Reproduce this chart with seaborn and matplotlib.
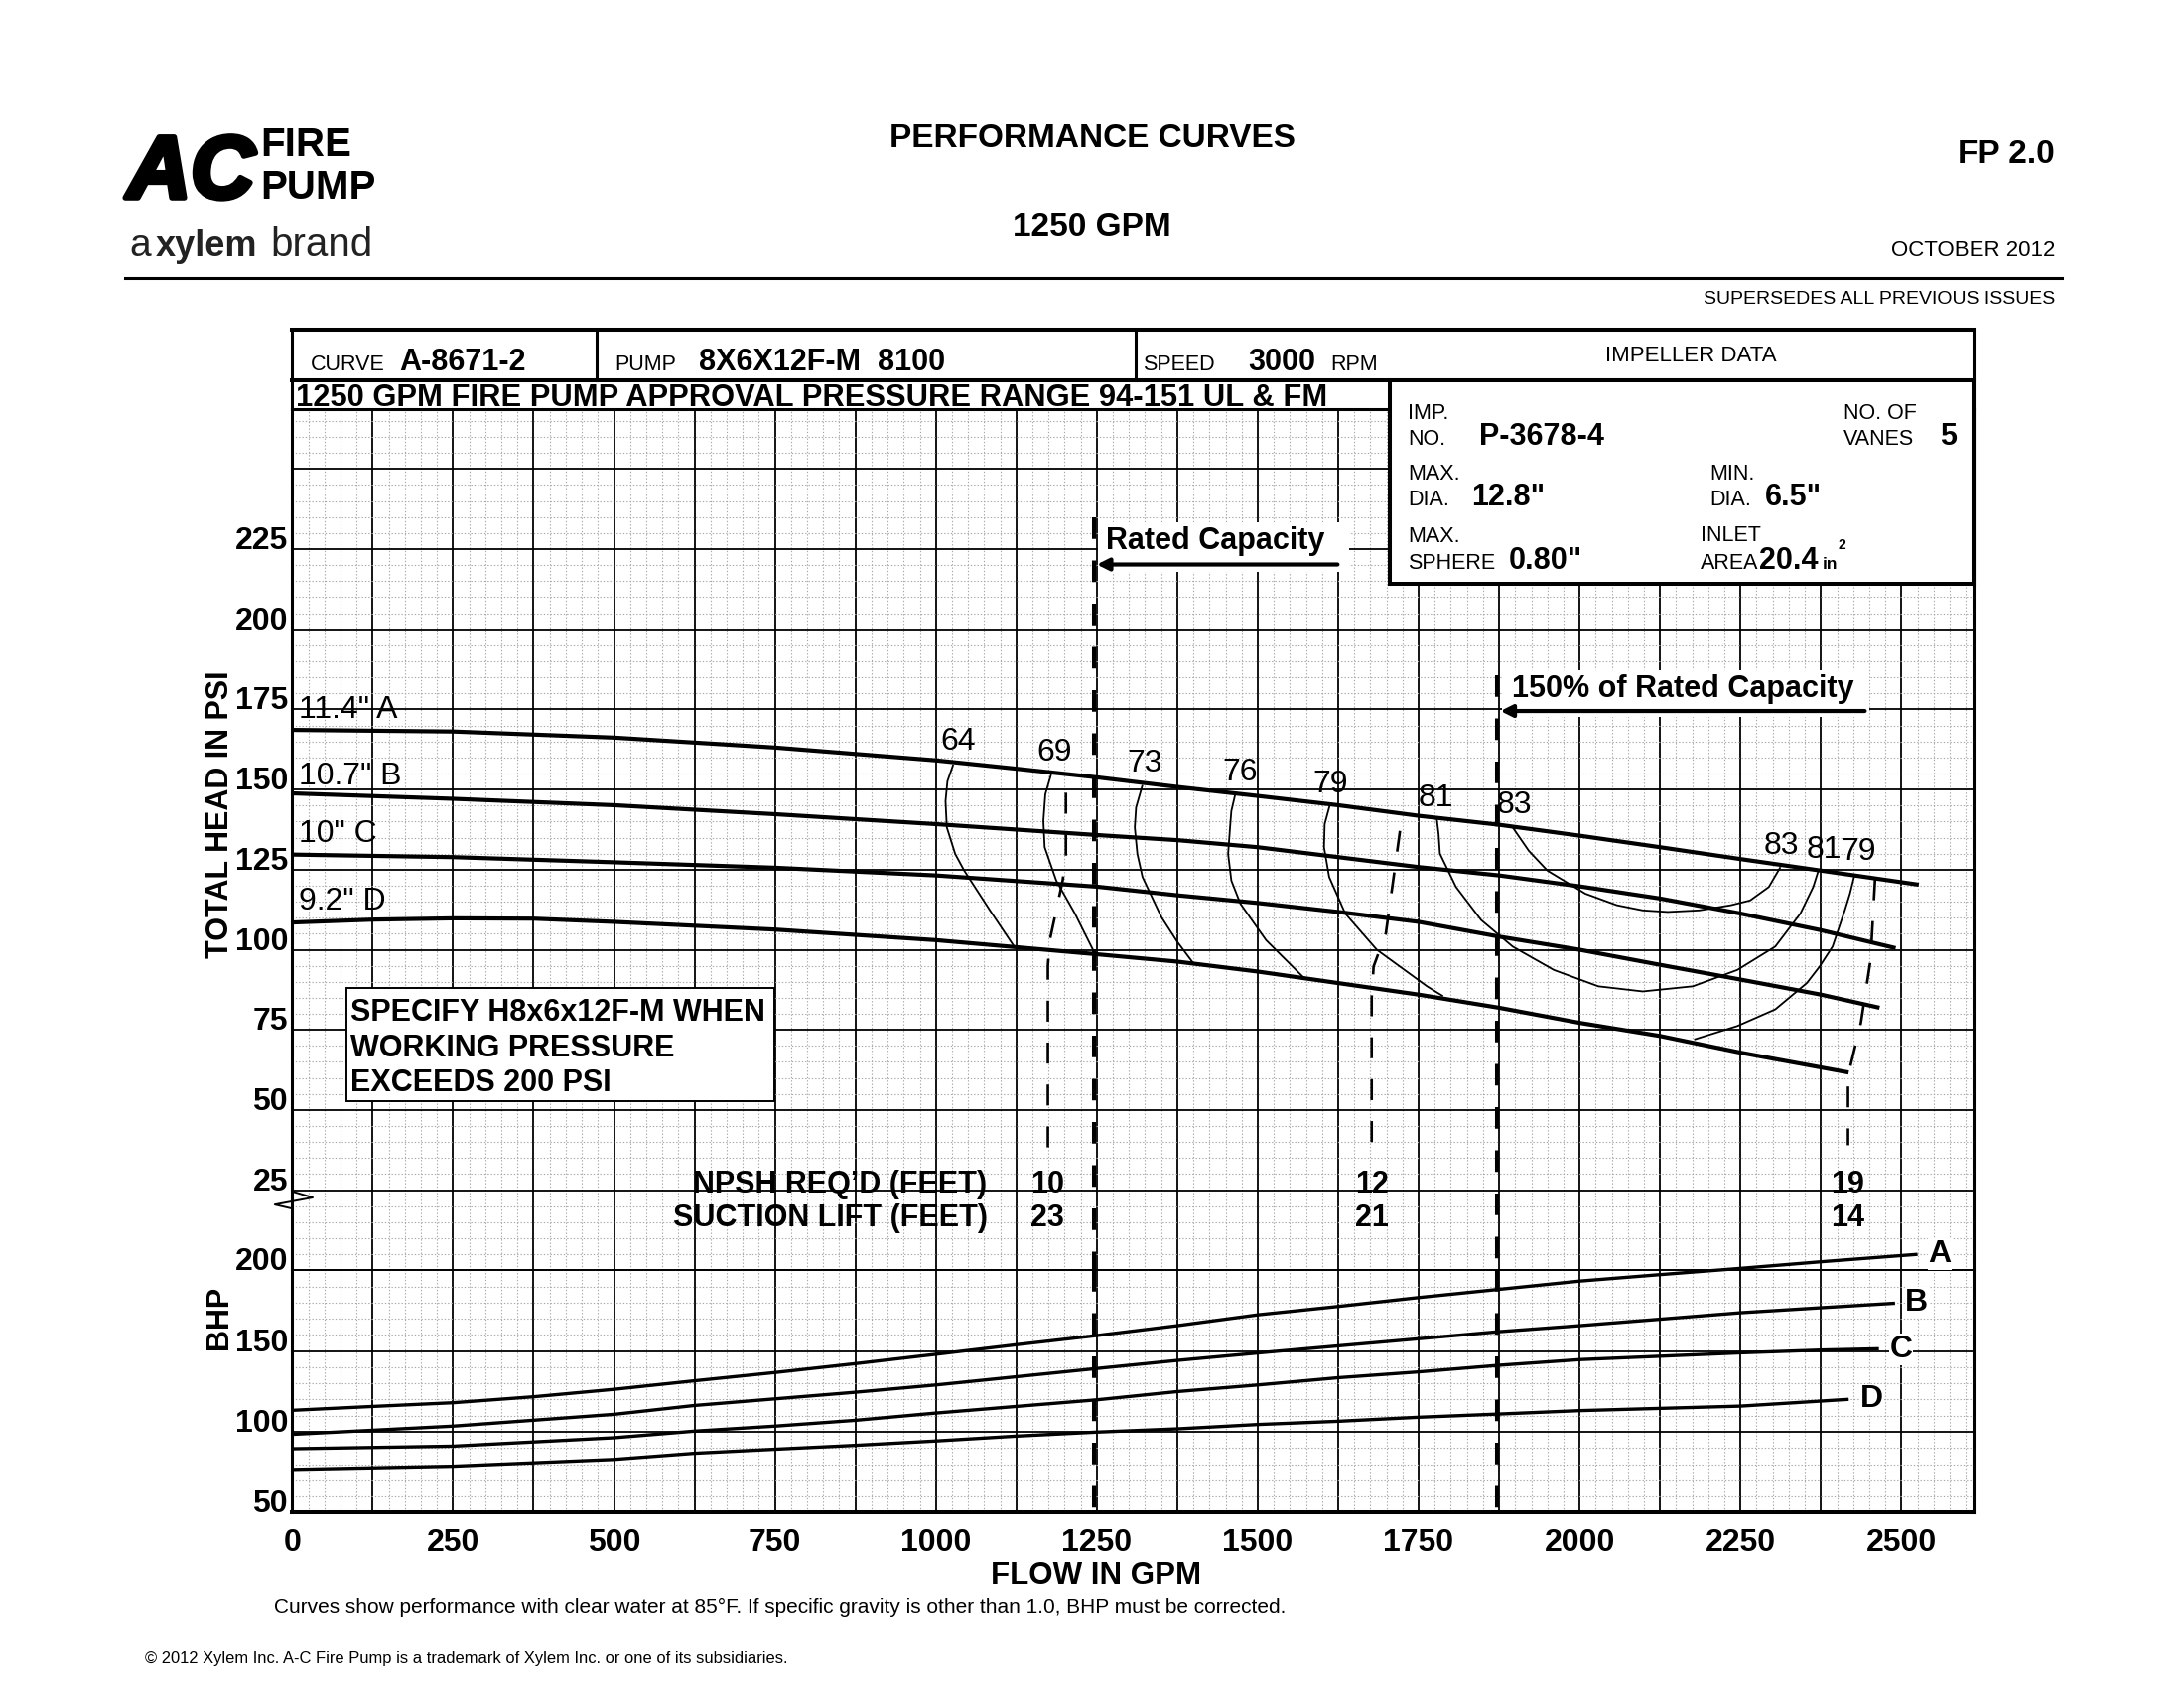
import numpy as np
import pandas as pd
import matplotlib
matplotlib.use("Agg")
import matplotlib.pyplot as plt
import matplotlib.patheffects as pe
import seaborn as sns
from matplotlib import font_manager
from matplotlib.lines import Line2D
from matplotlib.patches import Rectangle

# ---------------------------------------------------------------- data
flow_ticks = [0, 250, 500, 750, 1000, 1250, 1500, 1750, 2000, 2250, 2500]
head_ticks = [25, 50, 75, 100, 125, 150, 175, 200, 225]
bhp_ticks = [50, 100, 150, 200]

# head curves (GPM, PSI)
head_a_gpm = [0, 250, 500, 750, 1000, 1125, 1250, 1375, 1500, 1625, 1750, 1875, 2000, 2125, 2250, 2375, 2527]
head_a_psi = [168.6, 168.1, 166.2, 163.1, 159.1, 156.5, 153.8, 150.8, 148.0, 145.1, 141.8, 139.0, 135.6, 132.0, 128.3, 124.7, 120.3]
head_b_gpm = [0, 250, 500, 750, 1000, 1250, 1375, 1500, 1625, 1750, 1875, 2000, 2125, 2250, 2375, 2491]
head_b_psi = [148.8, 147.1, 145.1, 142.3, 139.2, 135.8, 134.2, 132.0, 128.9, 125.8, 123.2, 119.8, 116.0, 111.3, 106.1, 100.5]
head_c_gpm = [0, 250, 500, 750, 1000, 1250, 1375, 1500, 1625, 1750, 1875, 2000, 2125, 2250, 2375, 2466]
head_c_psi = [129.7, 128.9, 127.3, 125.6, 123.2, 119.7, 117.0, 114.6, 111.8, 108.7, 104.1, 100.0, 95.3, 90.7, 86.0, 81.9]
head_d_gpm = [0, 125, 250, 375, 500, 750, 1000, 1125, 1250, 1375, 1500, 1625, 1750, 1875, 2000, 2125, 2250, 2418]
head_d_psi = [108.5, 109.4, 109.8, 109.7, 108.7, 106.3, 103.0, 100.8, 98.6, 96.3, 93.2, 89.6, 86.0, 81.9, 77.2, 73.1, 67.9, 61.7]

# brake horsepower curves (GPM, BHP)
bhp_a_gpm = [0, 125, 250, 375, 500, 625, 750, 875, 1000, 1125, 1250, 1375, 1500, 1625, 1750, 1875, 2000, 2125, 2250, 2375, 2525]
bhp_a = [113.3, 115.7, 118.0, 121.7, 126.3, 131.6, 136.7, 142.2, 148.0, 153.9, 159.6, 165.7, 172.4, 177.6, 183.1, 188.2, 193.3, 197.3, 201.2, 205.3, 209.9]
bhp_b_gpm = [0, 250, 500, 625, 750, 875, 1000, 1125, 1250, 1375, 1500, 1625, 1750, 1875, 2000, 2250, 2375, 2490]
bhp_b = [98.4, 103.5, 110.8, 116.3, 120.4, 124.5, 129.0, 134.1, 139.2, 144.2, 148.8, 153.2, 157.6, 162.0, 165.7, 173.7, 176.8, 179.6]
bhp_c_gpm = [0, 250, 500, 625, 750, 875, 1000, 1125, 1250, 1375, 1500, 1625, 1750, 1875, 2000, 2250, 2375, 2465]
bhp_c = [89.5, 91.1, 96.3, 100.4, 103.5, 107.1, 111.6, 115.7, 119.8, 124.9, 129.0, 133.5, 137.1, 141.2, 144.7, 148.9, 150.6, 151.4]
bhp_d_gpm = [0, 250, 500, 625, 750, 875, 1000, 1125, 1250, 1375, 1500, 1625, 1750, 1875, 2000, 2250, 2418]
bhp_d = [76.7, 78.7, 82.9, 86.7, 89.2, 91.6, 94.3, 97.3, 99.8, 101.8, 104.5, 106.5, 109.0, 111.0, 113.1, 115.9, 120.1]

# iso-efficiency contours (GPM, PSI)
eff64_gpm = [1027, 1018, 1015, 1017, 1030, 1044, 1084, 1123]
eff64_psi = [157.8, 152.6, 146.4, 138.2, 129.9, 124.7, 112.3, 100.6]
eff69_gpm = [1179, 1170, 1167, 1169, 1187, 1216, 1246]
eff69_psi = [154.7, 148.5, 140.2, 132.0, 121.6, 111.3, 99.2]
eff73_gpm = [1321, 1311, 1309, 1313, 1321, 1350, 1375, 1400]
eff73_psi = [151.4, 144.4, 138.2, 129.9, 122.7, 110.3, 102.5, 95.8]
eff76_gpm = [1466, 1459, 1457, 1454, 1459, 1473, 1513, 1572]
eff76_psi = [149.3, 143.3, 138.2, 129.9, 121.6, 114.4, 103.0, 91.2]
eff79a_gpm = [1613, 1604, 1603, 1611, 1636, 1685, 1763, 1788]
eff79a_psi = [145.9, 139.2, 132.0, 122.7, 111.3, 100.0, 88.6, 85.5]
eff81_gpm = [1778, 1781, 1783, 1808, 1847, 1896, 1960, 2029, 2098, 2176, 2245, 2304, 2343, 2363, 2371]
eff81_psi = [141.1, 136.1, 130.0, 119.6, 109.3, 101.0, 93.7, 88.6, 87.0, 88.6, 93.7, 101.0, 111.3, 119.6, 124.7]
eff83_gpm = [1896, 1921, 1950, 2009, 2058, 2098, 2137, 2186, 2235, 2265, 2294, 2312]
eff83_psi = [138.2, 130.9, 124.7, 117.5, 113.9, 112.3, 111.8, 112.3, 113.9, 115.4, 119.6, 125.8]
eff79b_gpm = [2427, 2420, 2412, 2393, 2373, 2353, 2304, 2245, 2178]
eff79b_psi = [123.2, 117.5, 112.3, 101.0, 94.8, 89.6, 81.4, 76.2, 72.0]

eff_labels = ["64", "69", "73", "76", "79", "81", "83", "83", "81", "79"]
eff_label_gpm = [1035, 1184, 1325, 1472, 1613, 1777, 1898, 2314, 2380, 2433]
eff_label_psi = [165.0, 161.5, 158.1, 155.4, 151.5, 147.2, 145.0, 132.4, 131.0, 130.4]

# NPSH required lines (GPM, PSI)
npsh10_gpm = [1202, 1202, 1197, 1177, 1174, 1174]
npsh10_psi = [149.0, 129.0, 121.6, 103.0, 95.0, 35.0]
npsh12_gpm = [1721, 1710, 1699, 1680, 1677, 1677]
npsh12_psi = [137.1, 121.0, 105.1, 94.8, 85.0, 35.0]
npsh19_gpm = [2459, 2452, 2437, 2417, 2417]
npsh19_psi = [122.0, 96.8, 77.2, 60.7, 39.0]
npsh_req = ["10", "12", "19"]
suction_lift = ["23", "21", "14"]
npsh_label_gpm = [1173, 1677, 2417]

impeller_names = ['11.4" A', '10.7" B', '10" C', '9.2" D']
impeller_label_psi = [174.8, 154.2, 136.1, 114.9]
bhp_names = ["A", "B", "C", "D"]
bhp_label_gpm = [2542, 2506, 2482, 2436]
bhp_label_val = [210, 180, 151, 120]

rated_gpm = 1246
rated150_gpm = 1872

# ---------------------------------------------------------------- style
sns.set_theme(style="white")
BASE = ["Liberation Sans", "DejaVu Sans"]
plt.rcParams["font.family"] = BASE
for k in ["text.color", "axes.edgecolor", "xtick.color", "ytick.color", "axes.labelcolor"]:
    plt.rcParams[k] = "black"
names = {f.name for f in font_manager.fontManager.ttflist}
HAS_NARROW = "Liberation Sans Narrow" in names
NARROW = ["Liberation Sans Narrow", "DejaVu Sans"] if HAS_NARROW else BASE

W, H = 2200, 1700
fig = plt.figure(figsize=(22, 17), dpi=100)
fig.patch.set_facecolor("white")


def fx(x):
    return x / W


def fy(y):
    return 1 - y / H


AX_L, AX_R = 294.3, 1988.0
Y_TOP, Y_ZERO, Y_BOT = 412.3, 1279.3, 1523.3

ax = fig.add_axes([fx(AX_L), fy(Y_ZERO), fx(AX_R) - fx(AX_L), fy(Y_TOP) - fy(Y_ZERO)])
axb = fig.add_axes([fx(AX_L), fy(Y_BOT), fx(AX_R) - fx(AX_L), fy(Y_ZERO) - fy(Y_BOT)])


def curve(a, xs, ys, lw, dash=None, z=3, clip=True):
    sns.lineplot(x=xs, y=ys, ax=a, color="black", linewidth=lw, sort=False,
                 estimator=None, legend=False)
    ln = a.lines[-1]
    ln.set_solid_capstyle("butt")
    ln.set_dash_capstyle("butt")
    ln.set_zorder(z)
    ln.set_clip_on(clip)
    if dash is not None:
        ln.set_linestyle((0, dash))
    return ln


# head curves
for gx, gy in [(head_a_gpm, head_a_psi), (head_b_gpm, head_b_psi),
               (head_c_gpm, head_c_psi), (head_d_gpm, head_d_psi)]:
    curve(ax, gx, gy, 3.0)

# efficiency contours
for gx, gy in [(eff64_gpm, eff64_psi), (eff69_gpm, eff69_psi), (eff73_gpm, eff73_psi),
               (eff76_gpm, eff76_psi), (eff79a_gpm, eff79a_psi), (eff81_gpm, eff81_psi),
               (eff83_gpm, eff83_psi), (eff79b_gpm, eff79b_psi)]:
    curve(ax, gx, gy, 1.3)

# NPSH lines
for gx, gy in [(npsh10_gpm, npsh10_psi), (npsh12_gpm, npsh12_psi), (npsh19_gpm, npsh19_psi)]:
    curve(ax, gx, gy, 1.9, dash=(8, 8))

# BHP curves (curve A rises above the 200 BHP line, as in the original)
for gx, gy in [(bhp_a_gpm, bhp_a), (bhp_b_gpm, bhp_b), (bhp_c_gpm, bhp_c), (bhp_d_gpm, bhp_d)]:
    curve(axb, gx, gy, 2.4, clip=False)

# rated capacity lines
curve(ax, [rated_gpm, rated_gpm], [235, 0], 2.9, dash=(5.4, 5.4))
curve(axb, [rated_gpm, rated_gpm], [200, 50], 2.9, dash=(5.4, 5.4))
curve(ax, [rated150_gpm, rated150_gpm], [185.6, 0], 2.9, dash=(5.4, 5.4))
curve(axb, [rated150_gpm, rated150_gpm], [200, 50], 2.9, dash=(5.4, 5.4))

# ---------------------------------------------------------------- axes / grid
xt = np.arange(0, 2601, 125)
for a in (ax, axb):
    a.set_facecolor("white")
    a.set_xlim(0, 2612)
    a.set_xticks(xt)
    a.set_xticks(np.arange(0, 2612, 25), minor=True)
    a.grid(which="major", color="black", lw=1.3, ls="-")
    a.grid(which="minor", color="#a8a8a8", lw=0.8, ls=(0, (1.2, 1.8)))
    a.tick_params(which="both", length=0)
    a.set_axisbelow(True)
    a.set_xlabel("")
    a.set_ylabel("")

ax.set_ylim(0, 268.6)
axb.set_ylim(50, 200)
ax.set_xticklabels([""] * len(xt))
axb.set_xticklabels([str(int(v)) if int(v) in flow_ticks else "" for v in xt],
                    fontsize=23, fontweight="bold")
axb.tick_params(axis="x", pad=11)

yt = np.arange(0, 251, 25)
ax.set_yticks(yt)
ax.set_yticks(np.arange(0, 268.6, 5), minor=True)
ax.set_yticklabels([str(int(v)) if int(v) in head_ticks else "" for v in yt],
                   fontsize=23, fontweight="bold", va="baseline")
axb.set_yticks(bhp_ticks)
axb.set_yticks(np.arange(50, 201, 10), minor=True)
axb.set_yticklabels([str(v) for v in bhp_ticks], fontsize=23, fontweight="bold", va="baseline")
for a in (ax, axb):
    a.tick_params(axis="y", pad=3.0)

for s in ["left", "right", "top"]:
    ax.spines[s].set_linewidth(2.2)
ax.spines["bottom"].set_visible(False)
axb.spines["left"].set_linewidth(2.2)
axb.spines["right"].set_linewidth(2.2)
axb.spines["bottom"].set_linewidth(2.9)
axb.spines["top"].set_linewidth(1.3)
for a in (ax, axb):
    for s in a.spines.values():
        s.set_color("black")

# break symbol on the left axis
ax.plot([0, 32, -27, 1], [24.6, 22.7, 20.5, 19.2], color="black", lw=1.4, clip_on=False, zorder=5)

# ---------------------------------------------------------------- annotations in axes
for name, yv in zip(impeller_names, impeller_label_psi):
    ax.text(11, yv, name, fontsize=23, ha="left", va="center", zorder=4)

for lab, gx, gy in zip(eff_labels, eff_label_gpm, eff_label_psi):
    ax.text(gx, gy, lab, fontsize=23, ha="center", va="center", zorder=4)

# rated capacity captions
ax.add_patch(Rectangle((1252, 218.0), 390, 15.5, facecolor="white", edgecolor="none", zorder=2))
ax.text(1434, 227.4, "Rated Capacity", fontsize=22, fontweight="bold", ha="center", va="center", zorder=4)
ax.annotate("", xy=(1250, 220.2), xytext=(1624, 220.2),
            arrowprops=dict(arrowstyle="-|>", lw=3.0, color="black", mutation_scale=18,
                            shrinkA=0, shrinkB=0), zorder=4)
ax.add_patch(Rectangle((1880, 172.8), 570, 14.5, facecolor="white", edgecolor="none", zorder=2))
ax.text(2161, 181.4, "150% of Rated Capacity", fontsize=22, fontweight="bold", ha="center", va="center", zorder=4)
ax.annotate("", xy=(1877, 174.5), xytext=(2443, 174.5),
            arrowprops=dict(arrowstyle="-|>", lw=3.0, color="black", mutation_scale=18,
                            shrinkA=0, shrinkB=0), zorder=4)

# specify box
ax.add_patch(Rectangle((83.7, 52.8), 665.8, 35.3, facecolor="white", edgecolor="black", lw=1.4, zorder=2))
for txt, yv in zip(["SPECIFY H8x6x12F-M WHEN", "WORKING PRESSURE", "EXCEEDS 200 PSI"], [80.2, 69.2, 58.3]):
    ax.text(91, yv, txt, fontsize=22, fontweight="bold", ha="left", va="center", zorder=4)

# NPSH captions
ax.text(1080, 26.6, "NPSH REQ\u2019D (FEET)", fontsize=22, fontweight="bold", ha="right", va="center", zorder=4)
ax.text(1080, 16.2, "SUCTION LIFT (FEET)", fontsize=22, fontweight="bold", ha="right", va="center", zorder=4)
for n1, n2, gx in zip(npsh_req, suction_lift, npsh_label_gpm):
    ax.text(gx, 26.6, n1, fontsize=22, fontweight="bold", ha="center", va="center", zorder=4)
    ax.text(gx, 16.2, n2, fontsize=22, fontweight="bold", ha="center", va="center", zorder=4)

# BHP letters
for lab, gx, bv in zip(bhp_names, bhp_label_gpm, bhp_label_val):
    axb.text(gx, bv, lab, fontsize=23, fontweight="bold", ha="left", va="center", zorder=4,
             bbox=dict(facecolor="white", edgecolor="none", pad=0.5))


# ---------------------------------------------------------------- page furniture
def ftext(x, y, s, size, weight="normal", ha="left", va="baseline", family=None, z=6, **kw):
    return fig.text(fx(x), fy(y), s, fontsize=size, fontweight=weight, ha=ha, va=va, zorder=z,
                    family=family or BASE, **kw)


def fline(xs, ys, lw):
    fig.add_artist(Line2D([fx(v) for v in xs], [fy(v) for v in ys], color="black", lw=lw,
                          transform=fig.transFigure, solid_capstyle="projecting", zorder=5))


# axis titles
ftext(222, 820, "TOTAL HEAD IN PSI", 22, "bold", ha="center", va="center", rotation=90)
ftext(221, 1327, "BHP", 22, "bold", ha="center", va="center", rotation=90)
ftext(1104, 1587, "FLOW IN GPM", 22.5, "bold", ha="center", va="center")

# header frame
fline([294, 1988], [331.7, 331.7], 2.9)
fline([294, 1988], [383.3, 383.3], 2.9)
fline([294, 294], [331.7, 412.3], 2.2)
fline([1988, 1988], [331.7, 587.7], 2.2)
fline([600.7, 600.7], [331.7, 383.3], 2.2)
fline([1144, 1144], [331.7, 383.3], 2.2)
imp_box = Rectangle((fx(1400), fy(587.7)), fx(1988) - fx(1400), fy(383.3) - fy(587.7),
                    transform=fig.transFigure, facecolor="white", edgecolor="black", lw=2.9, zorder=5)
fig.add_artist(imp_box)

ftext(313, 373, "CURVE", 15.5)
ftext(402, 373, "A-8671-2", 22, "bold")
ftext(619, 373, "PUMP", 15.5)
ftext(704, 373, "8X6X12F-M  8100", 22, "bold")
ftext(1151, 373, "SPEED", 15.5)
ftext(1257, 373, "3000", 22, "bold")
ftext(1340, 373, "RPM", 15.5)
ftext(1703, 359, "IMPELLER DATA", 16, ha="center", va="center")
ftext(298, 409, "1250 GPM FIRE PUMP APPROVAL PRESSURE RANGE 94-151 UL & FM", 22.2, "bold")

ftext(1418, 421.7, "IMP.", 15.5)
ftext(1418, 448.3, "NO.", 15.5)
ftext(1490, 448.3, "P-3678-4", 22, "bold")
ftext(1857, 421.7, "NO. OF", 15.5)
ftext(1857, 448.3, "VANES", 15.5)
ftext(1954, 448.3, "5", 22, "bold")
ftext(1418, 483.3, "MAX.", 15.5)
ftext(1418, 509.3, "DIA.", 15.5)
ftext(1482, 509.3, '12.8"', 22, "bold")
ftext(1722, 483.3, "MIN.", 15.5)
ftext(1722, 509.3, "DIA.", 15.5)
ftext(1778, 509.3, '6.5"', 22, "bold")
ftext(1418, 546, "MAX.", 15.5)
ftext(1418, 572.7, "SPHERE", 15.5)
ftext(1520, 572.7, '0.80"', 22, "bold")
ftext(1713, 545, "INLET", 15.5)
ftext(1713, 572.7, "AREA", 15.5)
ftext(1772, 572.7, "20.4", 22, "bold")
ftext(1836, 572.7, "in", 12.5, "bold")
ftext(1851, 553, "2", 10, "bold")

# titles
ftext(1100, 140, "PERFORMANCE CURVES", 24, "bold", ha="center", va="center")
ftext(1100, 229, "1250 GPM", 24, "bold", ha="center", va="center")
ftext(2070, 156, "FP 2.0", 24, "bold", ha="right", va="center")
ftext(2070, 253, "OCTOBER 2012", 16, ha="right", va="center")
ftext(2070, 301, "SUPERSEDES ALL PREVIOUS ISSUES", 14, ha="right", va="center")
fline([126, 2077], [280, 280], 2.2)

# logo
ftext(128, 199, "AC", 64, "bold", style="italic",
      path_effects=[pe.withStroke(linewidth=4, foreground="black")])
fsz = 34 if HAS_NARROW else 29
ftext(262, 157, "FIRE", fsz, "bold", family=NARROW)
ftext(262, 200, "PUMP", fsz, "bold", family=NARROW)
ftext(130, 258, "a", 28, color="#222222")
ftext(157, 258, "xylem", 26, "bold", color="#222222")
ftext(272, 258, "brand", 29, color="#222222")

# footnotes
ftext(276.5, 1618, "Curves show performance with clear water at 85\u00b0F. If specific gravity is other than 1.0, "
      "BHP must be corrected.", 15, va="center")
ftext(146, 1670, "\u00a9 2012 Xylem Inc. A-C Fire Pump is a trademark of Xylem Inc. or one of its subsidiaries.",
      11.9, va="center")

fig.savefig("out.png", dpi=100, facecolor="white")
